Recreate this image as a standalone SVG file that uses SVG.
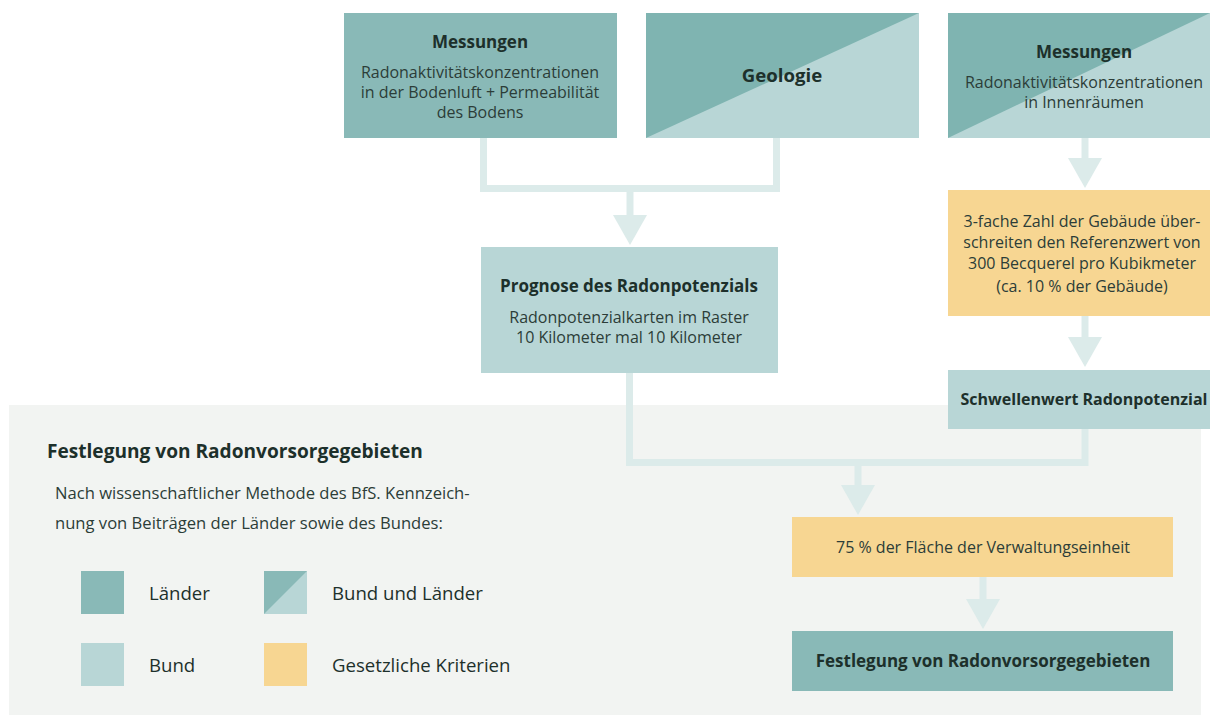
<svg xmlns="http://www.w3.org/2000/svg" width="1210" height="715" viewBox="0 0 1210 715">
<style>
.t{font-family:"Open Sans","Noto Sans","Liberation Sans",sans-serif;fill:#1d302b}
.b{font-weight:700;font-size:17px}
.r{font-size:16px;fill:#2c3d38}
.lg{font-size:18.6px}
.dark{fill:#89b9b7}
.dd{fill:#7fb4b1}
.light{fill:#b8d6d6}
.yel{fill:#f7d692}
.ln{fill:none;stroke:#dcebea;stroke-width:7}
.ah{fill:#dcebea}
</style>
<rect x="9" y="405" width="1192" height="310" fill="#f2f4f2"/>
<g id="connectors">
<path class="ln" d="M483.5,138 V188.5 H776.5 V138"/>
<path class="ln" d="M630,188.5 V216"/>
<polygon class="ah" points="613,215 647,215 630,245"/>
<path class="ln" d="M1085,138 V159"/>
<polygon class="ah" points="1068,158 1102,158 1085,188"/>
<path class="ln" d="M1085,316 V338"/>
<polygon class="ah" points="1068,337 1102,337 1085,367"/>
<path class="ln" d="M629.5,373 V462.5 H1085 V429"/>
<path class="ln" d="M858,462.5 V486"/>
<polygon class="ah" points="841,485 875,485 858,515"/>
<path class="ln" d="M983,577 V600"/>
<polygon class="ah" points="966,599 1000,599 983,629"/>
</g>
<g id="messungen-boden">
<rect class="dark" x="344" y="13" width="273" height="125"/>
<text class="t b" x="480" y="48" text-anchor="middle">Messungen</text>
<text class="t r" x="480" y="78" text-anchor="middle">Radonaktivitätskonzentrationen</text>
<text class="t r" x="480" y="98" text-anchor="middle">in der Bodenluft + Permeabilität</text>
<text class="t r" x="480" y="118" text-anchor="middle">des Bodens</text>
</g>
<g id="geologie">
<rect class="light" x="646" y="13" width="273" height="125"/>
<polygon class="dd" points="646,13 919,13 646,138"/>
<text class="t b" x="782" y="82" text-anchor="middle" style="font-size:18.6px">Geologie</text>
</g>
<g id="messungen-innen">
<rect class="light" x="948" y="13" width="262" height="125"/>
<polygon class="dd" points="948,13 1210,13 948,138"/>
<text class="t b" x="1084" y="58" text-anchor="middle">Messungen</text>
<text class="t r" x="1084" y="88" text-anchor="middle">Radonaktivitätskonzentrationen</text>
<text class="t r" x="1084" y="108" text-anchor="middle">in Innenräumen</text>
</g>
<g id="prognose">
<rect class="light" x="481" y="247" width="297" height="126"/>
<text class="t b" x="629" y="292" text-anchor="middle">Prognose des Radonpotenzials</text>
<text class="t r" x="629" y="323" text-anchor="middle">Radonpotenzialkarten im Raster</text>
<text class="t r" x="629" y="343" text-anchor="middle">10 Kilometer mal 10 Kilometer</text>
</g>
<g id="gebaeude">
<rect class="yel" x="948" y="190" width="262" height="126"/>
<text class="t r" x="1082" y="227" text-anchor="middle">3-fache Zahl der Gebäude über-</text>
<text class="t r" x="1082" y="248" text-anchor="middle">schreiten den Referenzwert von</text>
<text class="t r" x="1082" y="269" text-anchor="middle">300 Becquerel pro Kubikmeter</text>
<text class="t r" x="1082" y="292" text-anchor="middle">(ca. 10 % der Gebäude)</text>
</g>
<g id="schwellenwert">
<rect class="light" x="948" y="370" width="262" height="59"/>
<text class="t b" x="1084" y="405" text-anchor="middle" style="font-size:16px">Schwellenwert Radonpotenzial</text>
</g>
<g id="flaeche">
<rect class="yel" x="792" y="517" width="381" height="60"/>
<text class="t r" x="983" y="553" text-anchor="middle">75 % der Fläche der Verwaltungseinheit</text>
</g>
<g id="festlegung">
<rect class="dark" x="792" y="631" width="381" height="60"/>
<text class="t b" x="983" y="667" text-anchor="middle">Festlegung von Radonvorsorgegebieten</text>
</g>
<g id="legende">
<text class="t" x="47" y="458" font-size="19.1" font-weight="700">Festlegung von Radonvorsorgegebieten</text>
<text class="t r" x="55" y="499" style="font-size:16.6px">Nach wissenschaftlicher Methode des BfS. Kennzeich-</text>
<text class="t r" x="55" y="529" style="font-size:16.6px">nung von Beiträgen der Länder sowie des Bundes:</text>
<rect class="dark" x="81" y="571" width="43" height="43"/>
<text class="t lg" x="149" y="600">Länder</text>
<rect class="light" x="264" y="571" width="43" height="43"/>
<polygon class="dark" points="264,571 307,571 264,614"/>
<text class="t lg" x="332" y="600">Bund und Länder</text>
<rect class="light" x="81" y="643" width="43" height="43"/>
<text class="t lg" x="149" y="672">Bund</text>
<rect class="yel" x="264" y="643" width="43" height="43"/>
<text class="t lg" x="332" y="672">Gesetzliche Kriterien</text>
</g>
</svg>
